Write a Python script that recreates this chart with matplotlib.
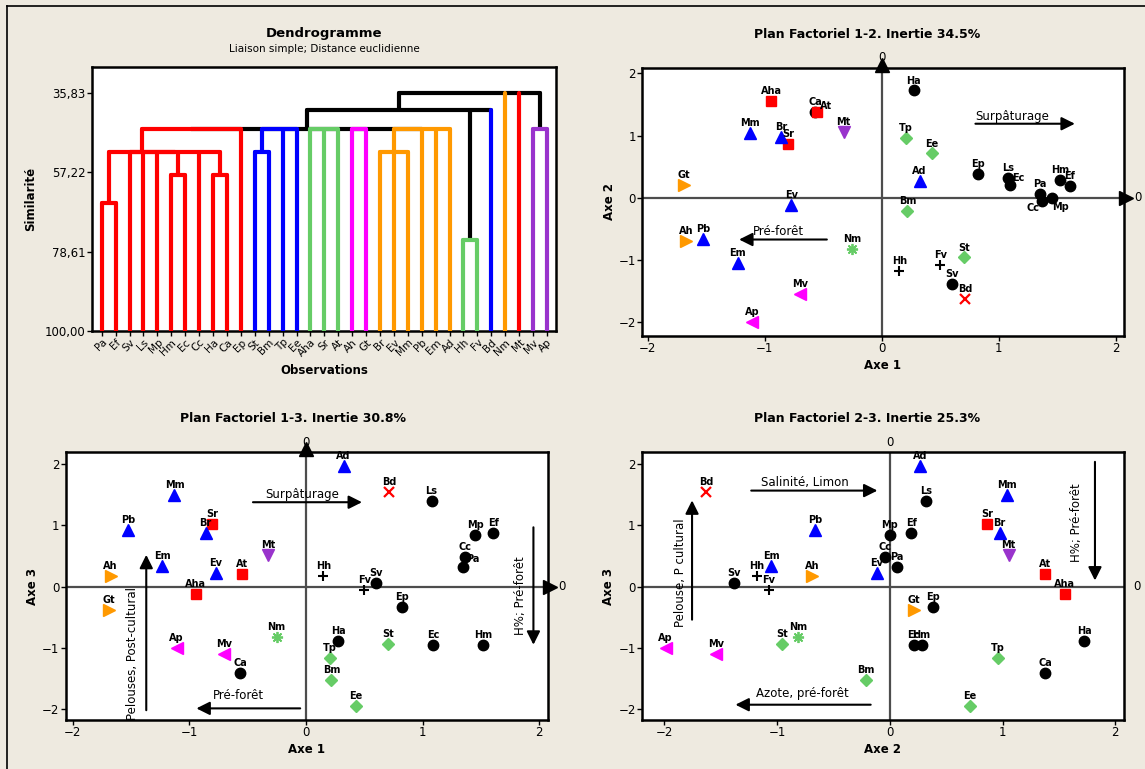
import matplotlib
matplotlib.use("Agg")
import matplotlib.pyplot as plt
from matplotlib.lines import Line2D

# ============================================================
# DONNÉES
# ============================================================

# ordre des feuilles du dendrogramme (= ordre des espèces)
especes = ["Pa", "Ef", "Sv", "Ls", "Mp", "Hm", "Ec", "Cc", "Ha", "Ca", "Ep",
           "St", "Bm", "Tp", "Ee", "Aha", "Sr", "At", "Ah", "Gt", "Br", "Ev",
           "Mm", "Pb", "Em", "Ad", "Hh", "Fv", "Bd", "Nm", "Mt", "Mv", "Ap"]

groupes = ["G1"] * 11 + ["G2"] * 4 + ["G3"] * 3 + ["G4"] * 2 + ["G5"] * 6 + \
          ["G6"] * 2 + ["G7", "G8", "G9"] + ["G10"] * 2

# fusions (nom, enfants, similarité)
fusions = [
    ("n1", ["Pa", "Ef"], 65.5),
    ("n2", ["Hm", "Ec"], 58.0),
    ("n3", ["Ha", "Ca"], 58.0),
    ("n4", ["Sv", "Ls", "Mp", "n2", "Cc", "n3"], 51.65),
    ("n5", ["n1", "n4"], 51.65),
    ("n6", ["St", "Bm"], 51.65),
    ("n7", ["Br", "Ev", "Mm"], 51.65),
    ("n8", ["Hh", "Fv"], 75.4),
    ("n9", ["n5", "Ep"], 45.6),
    ("n10", ["n6", "Tp", "Ee"], 45.6),
    ("n11", ["Aha", "Sr", "At"], 45.6),
    ("n12", ["Ah", "Gt"], 45.6),
    ("n13", ["n7", "Pb", "Em", "Ad"], 45.6),
    ("n14", ["Mv", "Ap"], 45.6),
    ("n15", ["n9", "n10", "n11", "n12", "n13"], 45.6),
    ("n16", ["n15", "n8", "Bd"], 40.4),
    ("n17", ["n16", "Nm", "Mt", "n14"], 35.83),
]
sim_ticks = [35.83, 57.22, 78.61, 100.00]

# coordonnées factorielles
axe1 = [1.35, 1.607, 0.60, 1.077, 1.453, 1.521, 1.092, 1.365, 0.274, -0.567, 0.821,
        0.70, 0.218, 0.203, 0.426, -0.945, -0.803, -0.551, -1.675, -1.69, -0.861,
        -0.773, -1.128, -1.526, -1.233, 0.323, 0.149, 0.499, 0.715, -0.252, -0.326,
        -0.70, -1.109]
axe2 = [0.062, 0.19, -1.38, 0.318, 0.0, 0.282, 0.212, -0.044, 1.724, 1.38, 0.383,
        -0.957, -0.216, 0.962, 0.712, 1.55, 0.865, 1.38, -0.693, 0.212, 0.975,
        -0.113, 1.036, -0.663, -1.052, 0.266, -1.18, -1.072, -1.63, -0.817, 1.055,
        -1.545, -1.99]
axe3 = [0.327, 0.872, 0.054, 1.406, 0.845, -0.959, -0.959, 0.49, -0.893, -1.417, -0.338,
        -0.943, -1.526, -1.172, -1.951, -0.125, 1.025, 0.207, 0.174, -0.381, 0.872,
        0.218, 1.499, 0.926, 0.343, 1.978, 0.18, -0.054, 1.542, -0.828, 0.512,
        -1.106, -1.008]

# ============================================================
# STYLES
# ============================================================

BG = "#EEEAE0"
VERT = "#66CC66"
ORANGE = "#FF9900"
VIOLET = "#9933CC"

couleur_dendro = {"G1": "red", "G2": "blue", "G3": VERT, "G4": "magenta",
                  "G5": ORANGE, "G6": VERT, "G7": "blue", "G8": ORANGE,
                  "G9": "red", "G10": VIOLET}

style_points = {
    "G1": dict(marker="o", color="black", ms=7.5),
    "G2": dict(marker="D", color=VERT, ms=6.5),
    "G3": dict(marker="s", color="red", ms=6.5),
    "G4": dict(marker=">", color=ORANGE, ms=8.5),
    "G5": dict(marker="^", color="blue", ms=8.5),
    "G6": dict(marker="+", color="black", ms=7, mew=1.5),
    "G7": dict(marker="x", color="red", ms=6.5, mew=1.6),
    "G8": dict(marker=(8, 2, 0), color=VERT, ms=8, mew=1.3),
    "G9": dict(marker="v", color=VIOLET, ms=8.5),
    "G10": dict(marker="<", color="magenta", ms=8.5),
}

plt.rcParams["font.family"] = "DejaVu Sans"

fig = plt.figure(figsize=(11.45, 7.69), dpi=100, facecolor=BG)


def cadre(ax):
    ax.set_facecolor("white")
    for s in ax.spines.values():
        s.set_linewidth(1.8)
    ax.tick_params(direction="out", length=3.5, width=1, labelsize=8.5, pad=1)


# ============================================================
# 1. DENDROGRAMME
# ============================================================

ax = fig.add_axes([92 / 1145, 1 - 331 / 769, 464 / 1145, 264 / 769])
cadre(ax)

pos = {n: i + 1 for i, n in enumerate(especes)}
haut = {n: 100.0 for n in especes}
coul = {n: couleur_dendro[g] for n, g in zip(especes, groupes)}
feuille = set(especes)

segments = []  # (xs, ys, couleur, ordre)
for nom, enfants, sim in fusions:
    cs = set(coul[e] for e in enfants)
    c = cs.pop() if len(cs) == 1 and None not in cs else None
    xs = [pos[e] for e in enfants]
    for e in enfants:
        if c is not None:
            ce = c
        elif e in feuille:
            ce = coul[e]
        else:
            ce = "black"
        segments.append(([pos[e], pos[e]], [haut[e], sim], ce, 1 if ce != "black" else 0))
    segments.append(([min(xs), max(xs)], [sim, sim], c or "black", 1 if c else 0))
    pos[nom] = (min(xs) + max(xs)) / 2
    haut[nom] = sim
    coul[nom] = c

for xs, ys, c, o in sorted(segments, key=lambda s: s[3]):
    ax.plot(xs, ys, color=c, lw=3, solid_capstyle="round", zorder=2 + o)

ax.set_xlim(0.3, len(especes) + 0.65)
ax.set_ylim(100, 28.8)
ax.set_yticks(sim_ticks)
ax.set_yticklabels([f"{v:.2f}".replace(".", ",") for v in sim_ticks])
ax.set_xticks(range(1, len(especes) + 1))
ax.set_xticklabels(especes, rotation=45, ha="right", rotation_mode="anchor", fontsize=7.5)
ax.set_ylabel("Similarité", fontweight="bold", fontsize=8.5, labelpad=6)
ax.set_xlabel("Observations", fontweight="bold", fontsize=8.5, labelpad=4)

fig.text(324 / 1145, 1 - 33 / 769, "Dendrogramme", ha="center", va="center",
         fontweight="bold", fontsize=9.5)
fig.text(324 / 1145, 1 - 49 / 769, "Liaison simple; Distance euclidienne",
         ha="center", va="center", fontsize=7.5)

# ============================================================
# 2. PLANS FACTORIELS
# ============================================================


def plan(rect, xs, ys, xlim, ylim, titre, tx, ty, xlab, ylab, fleches_axes, decal):
    ax = fig.add_axes(rect)
    cadre(ax)
    ax.set_xlim(*xlim)
    ax.set_ylim(*ylim)
    ax.set_xticks([-2, -1, 0, 1, 2])
    ax.set_yticks([-2, -1, 0, 1, 2])
    ax.set_xlabel(xlab, fontweight="bold", fontsize=8.5, labelpad=3)
    ax.set_ylabel(ylab, fontweight="bold", fontsize=8.5, labelpad=2)
    fig.text(tx / 1145, 1 - ty / 769, titre, ha="center", va="center",
             fontweight="bold", fontsize=9)

    ax.axhline(0, color="#4d4d4d", lw=1.6, zorder=1)
    ax.axvline(0, color="#4d4d4d", lw=1.6, zorder=1)
    if fleches_axes:
        ax.plot(0, ylim[1] + 0.05, marker="^", color="black", ms=10, clip_on=False, zorder=5)
        ax.plot(xlim[1] + 0.02, 0, marker=">", color="black", ms=10, clip_on=False, zorder=5)
    ax.text(0, ylim[1] + 0.16, "0", ha="center", va="center", fontsize=8.5, zorder=4)
    ax.text(xlim[1] + 0.12, 0, "0", ha="center", va="center", fontsize=8.5)

    for n, g, x, y in zip(especes, groupes, xs, ys):
        st = dict(style_points[g])
        ax.plot(x, y, linestyle="none", zorder=3, **st)
        dx, dy, ha, va = decal.get(n, (0, 3.5, "center", "bottom"))
        ax.annotate(n, (x, y), xytext=(dx, dy), textcoords="offset points",
                    ha=ha, va=va, fontsize=7, fontweight="bold", zorder=4)
    return ax


def fleche(ax, debut, fin):
    ax.annotate("", xy=fin, xytext=debut,
                arrowprops=dict(arrowstyle="-|>", color="black", lw=1.5,
                                mutation_scale=20, shrinkA=0, shrinkB=0))


# --- Plan 1-2
ax12 = plan([642 / 1145, 1 - 335.7 / 769, 482 / 1145, 268 / 769], axe1, axe2,
            (-2.05, 2.07), (-2.215, 2.09), "Plan Factoriel 1-2. Inertie 34.5%", 867, 34,
            "Axe 1", "Axe 2", True,
            {"Cc": (-6, -2, "center", "top"), "Mp": (6, -3, "center", "top"),
             "At": (6, 1, "center", "bottom"), "Ec": (6, 1, "center", "bottom")})
fleche(ax12, (0.8, 1.19), (1.65, 1.19))
ax12.text(0.8, 1.3, "Surpâturage", fontsize=8.5, va="center")
fleche(ax12, (-0.47, -0.67), (-1.22, -0.67))
ax12.text(-1.1, -0.54, "Pré-forêt", fontsize=8.5, va="center")

# --- Plan 1-3
ax13 = plan([65.8 / 1145, 1 - 720 / 769, 482.2 / 1145, 267.7 / 769], axe1, axe3,
            (-2.06, 2.075), (-2.18, 2.196), "Plan Factoriel 1-3. Inertie 30.8%", 293, 418,
            "Axe 1", "Axe 3", True,
            {"Pa": (7, 2, "center", "bottom")})
fleche(ax13, (-0.455, 1.38), (0.48, 1.38))
ax13.text(-0.35, 1.51, "Surpâturage", fontsize=8.5, va="center")
fleche(ax13, (-0.05, -1.99), (-0.94, -1.99))
ax13.text(-0.8, -1.78, "Pré-forêt", fontsize=8.5, va="center")
fleche(ax13, (-1.37, -2.02), (-1.37, 0.52))
ax13.text(-1.49, -1.09, "Pelouses, Post-cultural", fontsize=8.5, rotation=90,
          ha="center", va="center")
fleche(ax13, (1.95, 0.97), (1.95, -0.95))
ax13.text(1.835, -0.14, "H%; Pré-forêt", fontsize=8.5, rotation=90,
          ha="center", va="center")

# --- Plan 2-3
ax23 = plan([641.9 / 1145, 1 - 720 / 769, 481.8 / 1145, 267.7 / 769], axe2, axe3,
            (-2.2, 2.075), (-2.18, 2.196), "Plan Factoriel 2-3. Inertie 25.3%", 867, 418,
            "Axe 2", "Axe 3", False, {})
fleche(ax23, (-1.23, 1.57), (-0.11, 1.57))
ax23.text(-1.14, 1.71, "Salinité, Limon", fontsize=8.5, va="center")
fleche(ax23, (-0.17, -1.93), (-1.37, -1.93))
ax23.text(-1.19, -1.74, "Azote, pré-forêt", fontsize=8.5, va="center")
fleche(ax23, (-1.755, -0.54), (-1.755, 1.41))
ax23.text(-1.86, 0.23, "Pelouse, P cultural", fontsize=8.5, rotation=90,
          ha="center", va="center")
fleche(ax23, (1.82, 2.04), (1.82, 0.1))
ax23.text(1.66, 1.04, "H%; Pré-forêt", fontsize=8.5, rotation=90,
          ha="center", va="center")

# cadre de la figure
fig.add_artist(Line2D([7 / 1145, 7 / 1145], [0, 1 - 6 / 769], color="black", lw=1.2))
fig.add_artist(Line2D([7 / 1145, 1], [1 - 6 / 769, 1 - 6 / 769], color="black", lw=1.2))

fig.savefig("out.png", dpi=100, facecolor=BG)
